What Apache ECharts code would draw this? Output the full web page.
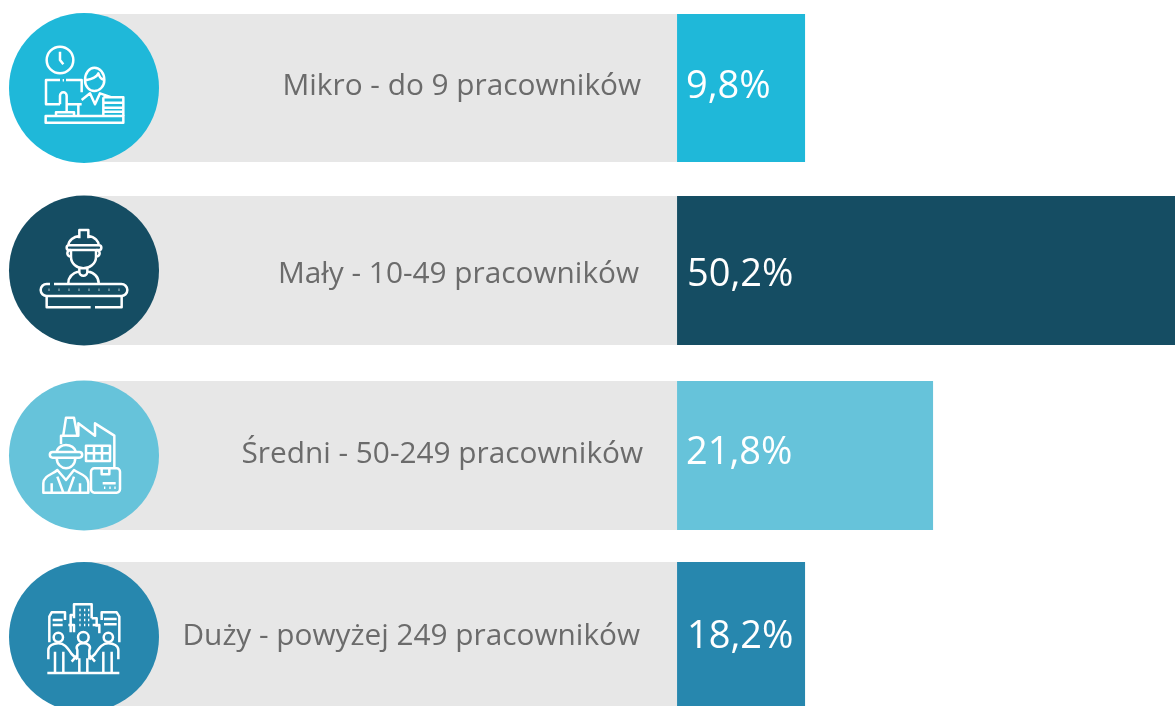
<!DOCTYPE html>
<html><head><meta charset="utf-8">
<style>html,body{margin:0;padding:0;background:#fff;overflow:hidden}#c{width:1175px;height:706px}</style>
<script src="https://cdn.jsdelivr.net/npm/echarts@6/dist/echarts.min.js"></script>
</head><body><div id="c"></div>
<script>
// Data
const categories = ['Mikro - do 9 pracowników','Mały - 10-49 pracowników','Średni - 50-249 pracowników','Duży - powyżej 249 pracowników'];
const shareLabels = ['9,8%','50,2%','21,8%','18,2%'];
// The picture's bars are not proportional to their printed shares: lengths as drawn (unit = shortest bar)
const barLengths = [1,3.89,2,1];
const trackLengths = [4.633,4.633,4.633,4.633];
const colors = ['#1fb8d9','#154d63','#66c3da','#2787ae'];

// Layout
const rowTop = [14,196,381,562], rowHeight = [148,149,149,150];
const axisMax = 8.523;
const font = '"Open Sans", sans-serif';
const nameDist = [36,38,34,37], nameOff = [-1,4.5,-0.5,0];
const valDist = [9,10,9,10], valOff = [-0.5,5,-2,0];

const icons = [
 {y:5, paths:[
  'M220 165A40 40 0 1 1 140 165A40 40 0 1 1 220 165ZM180 140V165L190 178',
  'M245 262V225H198M180 225H138V298H180M200 298H245M188 226H192',
  'M180 298V272A10 10 0 0 1 200 272V320M168 332V322H222V332M137 333H370V353H137Z',
  'M255 225C255 205 268 188 283 188C300 188 313 205 313 225C313 245 298 258 283 258C268 258 255 245 255 225ZM257 226C275 222 290 218 295 205C298 215 304 222 310 224',
  'M245 285L270 265L285 298L300 265L335 277M235 298V333M310 277H370V333M310 277V333M312 293H370M312 308H370M312 320H370']},
 {y:190, paths:[
  'M238 145V120H265V145M205 168C205 150 222 140 238 138M265 138C285 140 297 155 297 168M207 166H297A7 7 0 0 1 297 180H207A7 7 0 0 1 207 166Z',
  'M213 180V200C213 222 232 235 250 235C268 235 288 222 288 200V180M212 180A10 10 0 0 0 212 200M289 180A10 10 0 0 1 289 200',
  'M238 235V245A12 12 0 0 0 262 245V235M205 280C205 258 222 248 238 244M262 244C280 248 296 258 296 280',
  'M162 282H364A18 18 0 0 1 364 318H140A18 18 0 0 1 140 282H150',
  'M146 299H148M176 299H178M206 299H208M236 299H238M266 299H268M296 299H298M326 299H328M356 299H358',
  'M140 318V352H272M285 352H365V318']},
 {y:375, paths:[
  'M190 180L198 128H222L232 180M183 208V182H235V145L285 182V145L343 182V278',
  'M258 212H330V258H258ZM282 212V258M306 212V258M258 235H330',
  'M283 280H350A10 10 0 0 1 360 290V343A10 10 0 0 1 350 353H283A10 10 0 0 1 273 343V290A10 10 0 0 1 283 280ZM305 280V298H328V280M308 325H347M312 338H316M328 338H332M343 338H347',
  'M158 231H238A8 8 0 0 1 238 248H158A8 8 0 0 1 158 231ZM170 231C172 216 188 210 198 210C212 210 225 218 228 231M170 248C170 268 185 280 198 280C212 280 226 268 226 248',
  'M130 353V325C130 302 160 297 172 285L198 315L222 285C240 297 265 302 265 325V353ZM172 305L190 353M222 305L205 353M155 325V353M240 325V353']},
 {y:555, paths:[
  'M142 354H358',
  'M148 262V185L155 172H195V195M222 190V148H275V190M222 180H212V232M275 190H290V215M305 195V172H350L358 185V262M158 195H188M158 210H188M312 192H350M312 208H350M205 210H222V232M278 210H298V235',
  'M238 165H242M252 165H256M238 180H242M252 180H256M264 165H268M264 180H268M238 195H242M252 195H256M264 195H268M238 210H242M252 210H256M264 210H268',
  'M189 247A14 14 0 1 1 161 247A14 14 0 1 1 189 247ZM266 247A16 16 0 1 1 234 247A16 16 0 1 1 266 247ZM339 247A14 14 0 1 1 311 247A14 14 0 1 1 339 247Z',
  'M145 313V285C145 272 160 265 175 265C192 265 200 275 215 297L232 313M165 290V354M190 290V354',
  'M232 313V285C225 272 238 265 250 265C262 265 275 272 268 285V313M238 310V354M262 310V354M232 300L215 320M268 300L285 320',
  'M355 313V285C355 272 340 265 325 265C308 265 300 275 285 297L268 313M335 290V354M310 290V354']}
];

const idx = categories.map((_,i)=>i);
const iconSeries = {
 type:'custom',coordinateSystem:'none',silent:true,z:100,data:[0],
 renderItem:()=>({type:'group',children:icons.flatMap(ic=>ic.paths.map(p=>({
   type:'path',x:0,y:ic.y,scaleX:1/3,scaleY:1/3,
   shape:{pathData:p},
   style:{fill:'none',stroke:'#fff',lineWidth:7.5,lineJoin:'round'}
 })))})
};
const option = {
 animation:false,
 backgroundColor:'#fff',
 grid: idx.map(i=>({left:84,width:1091,top:rowTop[i],height:rowHeight[i],outerBoundsMode:'none'})),
 xAxis: idx.map(i=>({type:'value',gridIndex:i,min:0,max:axisMax,show:false})),
 yAxis: idx.map(i=>({type:'category',gridIndex:i,data:[categories[i]],show:false})),
 series: idx.flatMap(i=>[
  {type:'bar',name:categories[i]+' (tło)',xAxisIndex:i,yAxisIndex:i,stack:'r'+i,barWidth:'100%',
   data:[trackLengths[i]],itemStyle:{color:'#e7e7e7'},
   label:{show:true,position:'insideRight',distance:nameDist[i],offset:[0,nameOff[i]],formatter:categories[i],
     color:'#6b6b6b',fontFamily:font,fontWeight:400,fontSize:29.8}},
  {type:'bar',name:categories[i],xAxisIndex:i,yAxisIndex:i,stack:'r'+i,barWidth:'100%',
   data:[barLengths[i]],itemStyle:{color:colors[i]},
   label:{show:true,position:'insideLeft',distance:valDist[i],offset:[0,valOff[i]],formatter:shareLabels[i],
     color:'#fff',fontFamily:font,fontWeight:400,fontSize:38}},
  {type:'scatter',xAxisIndex:i,yAxisIndex:i,data:[[0,categories[i]]],symbol:'circle',symbolSize:150,clip:false,z:5,
   itemStyle:{color:colors[i],opacity:1},silent:true}
 ]).concat([iconSeries])
};
echarts.init(document.getElementById('c'),null,{renderer:'canvas'}).setOption(option);
</script></body></html>
